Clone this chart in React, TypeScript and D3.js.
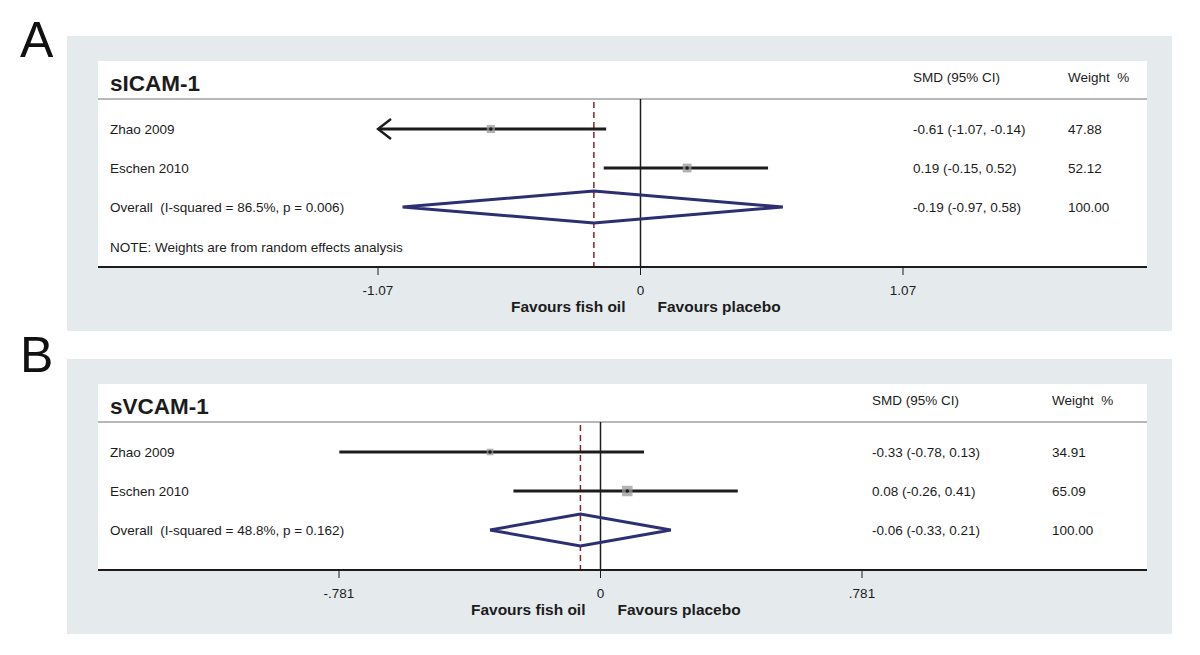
import React from 'react';
import * as d3 from 'd3';

// panel A: sICAM-1
const studiesA = ['Zhao 2009', 'Eschen 2010'];
const smdA = [-0.61, 0.19];
const lowA = [-1.07, -0.15];
const highA = [-0.14, 0.52];
const weightA = [47.88, 52.12];
const overallA = [-0.19, -0.97, 0.58];
const ticksA = [-1.07, 0, 1.07];
const tickLabelsA = ['-1.07', '0', '1.07'];

// panel B: sVCAM-1
const studiesB = ['Zhao 2009', 'Eschen 2010'];
const smdB = [-0.33, 0.08];
const lowB = [-0.78, -0.26];
const highB = [0.13, 0.41];
const weightB = [34.91, 65.09];
const overallB = [-0.06, -0.33, 0.21];
const ticksB = [-0.781, 0, 0.781];
const tickLabelsB = ['-.781', '0', '.781'];

const font = '"Liberation Sans", Arial, sans-serif';
const ink = '#1c1c1c';
const navy = '#2c2f72';
const maroon = '#8a2424';
const pre = { whiteSpace: 'pre' } as React.CSSProperties;
const fs = 13.5;

const fmt = (v: number) => v.toFixed(2);

type PanelProps = {
  letter: string;
  letterY: number;
  title: string;
  top: number;
  bottom: number;
  studies: string[];
  smd: number[];
  low: number[];
  high: number[];
  weight: number[];
  overall: number[];
  overallLabel: string;
  ticks: number[];
  tickLabels: string[];
  range: [number, number];
  smdX: number;
  weightX: number;
  note?: string;
};

const Panel = (p: PanelProps) => {
  const x = d3.scaleLinear().domain([p.ticks[0], p.ticks[2]]).range(p.range);
  const box = d3.scaleLinear().domain([0, 100]).range([2, 15]);
  const left = 98, right = 1147;
  const headerY = p.top + 16;
  const sepY = p.top + 38;
  const rowY = (i: number) => sepY + 30 + i * 39;
  const axisY = p.bottom;
  const clipMin = p.ticks[0];
  const [ov, ovLo, ovHi] = p.overall;
  const oy = rowY(p.studies.length);
  const diamond = d3.line()([
    [x(ovLo), oy], [x(ov), oy - 16], [x(ovHi), oy], [x(ov), oy + 16], [x(ovLo), oy]
  ]) as string;

  return (
    <g fontFamily={font} fill={ink}>
      <text x={20} y={p.letterY} fontSize={50} fill="#111">{p.letter}</text>
      <rect x={67} y={p.top - 25} width={1105} height={axisY - p.top + 89} fill="#e5ebed" />
      <rect x={left} y={p.top} width={right - left} height={axisY - p.top} fill="#fff" />
      <text x={110} y={p.top + 30} fontSize={22.5} fontWeight="bold">{p.title}</text>
      <text x={p.smdX} y={headerY + 5} fontSize={fs}>SMD (95% CI)</text>
      <text x={p.weightX} y={headerY + 5} fontSize={fs} style={pre}>Weight  %</text>
      <line x1={left} x2={right} y1={sepY} y2={sepY} stroke="#b8b8b8" strokeWidth={2} />

      <line x1={x(0)} x2={x(0)} y1={sepY} y2={axisY} stroke={ink} strokeWidth={1.5} />
      <line x1={x(ov)} x2={x(ov)} y1={sepY + 3} y2={axisY} stroke={maroon}
        strokeWidth={1.5} strokeDasharray="6 4" />

      {p.studies.map((s, i) => {
        const y = rowY(i);
        const lo = Math.max(p.low[i], clipMin);
        const side = box(p.weight[i]);
        return (
          <g key={s}>
            <text x={110} y={y + 5} fontSize={fs}>{s}</text>
            <line x1={x(lo)} x2={x(p.high[i])} y1={y} y2={y} stroke={ink} strokeWidth={2.8} />
            {p.low[i] <= clipMin && (
              <path d={`M${x(lo) + 13},${y - 10}L${x(lo)},${y}L${x(lo) + 13},${y + 10}`}
                fill="none" stroke={ink} strokeWidth={2.4} />
            )}
            <rect x={x(p.smd[i]) - side / 2} y={y - side / 2} width={side} height={side}
              fill="#9a9a9a" opacity={0.75} />
            <circle cx={x(p.smd[i])} cy={y} r={1.8} fill={ink} />
            <text x={p.smdX} y={y + 5} fontSize={fs}>
              {`${fmt(p.smd[i])} (${fmt(p.low[i])}, ${fmt(p.high[i])})`}
            </text>
            <text x={p.weightX} y={y + 5} fontSize={fs}>{fmt(p.weight[i])}</text>
          </g>
        );
      })}

      <text x={110} y={oy + 5} fontSize={fs} style={pre}>{p.overallLabel}</text>
      <path d={diamond} fill="none" stroke={navy} strokeWidth={3} strokeLinejoin="miter" />
      <text x={p.smdX} y={oy + 5} fontSize={fs}>{`${fmt(ov)} (${fmt(ovLo)}, ${fmt(ovHi)})`}</text>
      <text x={p.weightX} y={oy + 5} fontSize={fs}>100.00</text>
      {p.note && <text x={110} y={rowY(p.studies.length + 1) + 6} fontSize={fs}>{p.note}</text>}

      <line x1={left} x2={right} y1={axisY} y2={axisY} stroke={ink} strokeWidth={2} />
      {p.ticks.map((t, i) => (
        <g key={t}>
          <line x1={x(t)} x2={x(t)} y1={axisY} y2={axisY + 8} stroke={ink} strokeWidth={1} />
          <text x={x(t)} y={axisY + 28} fontSize={fs} textAnchor="middle">{p.tickLabels[i]}</text>
        </g>
      ))}
      <text x={x(0) - 15} y={axisY + 45} fontSize={15.5} fontWeight="bold" textAnchor="end">Favours fish oil</text>
      <text x={x(0) + 17} y={axisY + 45} fontSize={15.5} fontWeight="bold">Favours placebo</text>
    </g>
  );
};

export default function App() {
  return (
    <svg width={1200} height={655} style={{ position: 'absolute', left: 0, top: 0, background: '#fff' }}>
      <Panel letter="A" letterY={57} title="sICAM-1" top={61} bottom={267}
        studies={studiesA} smd={smdA} low={lowA} high={highA} weight={weightA}
        overall={overallA} overallLabel="Overall  (I-squared = 86.5%, p = 0.006)"
        ticks={ticksA} tickLabels={tickLabelsA} range={[378, 903]}
        smdX={913} weightX={1068} note="NOTE: Weights are from random effects analysis" />
      <Panel letter="B" letterY={372} title="sVCAM-1" top={384} bottom={570}
        studies={studiesB} smd={smdB} low={lowB} high={highB} weight={weightB}
        overall={overallB} overallLabel="Overall  (I-squared = 48.8%, p = 0.162)"
        ticks={ticksB} tickLabels={tickLabelsB} range={[339, 862]}
        smdX={872} weightX={1052} />
    </svg>
  );
}
